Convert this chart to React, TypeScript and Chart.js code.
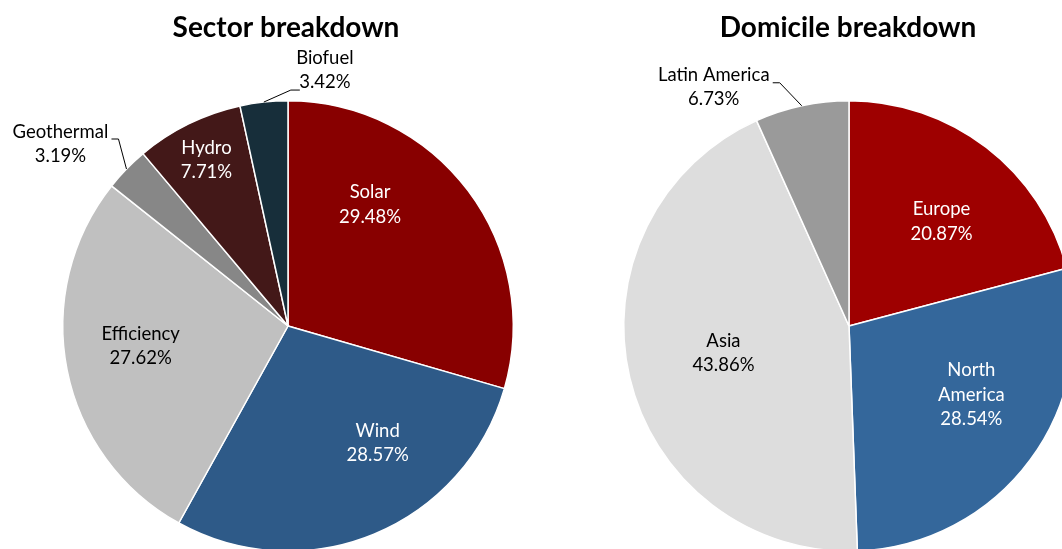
import React, { useEffect, useRef } from "react";
import { Chart, registerables } from "chart.js";

Chart.register(...registerables);

// ---------- data ----------
const sectorTitle = "Sector breakdown";
const sectorLabels = ["Solar", "Wind", "Efficiency", "Geothermal", "Hydro", "Biofuel"];
const sectorValues = [29.48, 28.57, 27.62, 3.19, 7.71, 3.42];

const domicileTitle = "Domicile breakdown";
const domicileLabels = ["Europe", "North America", "Asia", "Latin America"];
const domicileValues = [20.87, 28.54, 43.86, 6.73];

// ---------- styles ----------
const sectorColors = ["#880000", "#2E5A88", "#C0C0C0", "#878787", "#431818", "#172E3A"];
const domicileColors = ["#9E0000", "#34679B", "#DDDDDD", "#9A9A9A"];

const FONT = "Lato, 'Open Sans', sans-serif";

type LabelCfg =
  | { kind: "in"; dA: number; rf: number; color: string; lines?: string[] }
  | { kind: "out"; text: [number, number]; elbow: [number, number]; end: [number, number]; lines?: string[] };

const sectorLabelCfg: LabelCfg[] = [
  { kind: "in", dA: -19, rf: 0.65, color: "#fff" },
  { kind: "in", dA: -15, rf: 0.655, color: "#fff" },
  { kind: "in", dA: 3.6, rf: 0.66, color: "#000" },
  { kind: "out", text: [-66, -25], elbow: [-8, -30], end: [-15, -30] },
  { kind: "in", dA: 0, rf: 0.82, color: "#fff" },
  { kind: "out", text: [61, -32], elbow: [27, -12], end: [36, -12] },
];

const domicileLabelCfg: LabelCfg[] = [
  { kind: "in", dA: 3.9, rf: 0.62, color: "#fff" },
  { kind: "in", dA: -7.2, rf: 0.623, color: "#fff", lines: ["North", "America"] },
  { kind: "in", dA: 1.1, rf: 0.57, color: "#000" },
  { kind: "out", text: [-88, -18.5], elbow: [-22, -23], end: [-29, -23] },
];

function makePlugin(title: string, titleX: number, cfgs: LabelCfg[]) {
  return {
    id: "customLabels",
    afterDatasetsDraw(chart: any) {
      const ctx = chart.ctx as CanvasRenderingContext2D;
      const meta = chart.getDatasetMeta(0);
      const labels = chart.data.labels as string[];
      const values = chart.data.datasets[0].data as number[];
      ctx.save();
      // title
      ctx.font = `bold 28px ${FONT}`;
      ctx.fillStyle = "#000";
      ctx.textAlign = "center";
      ctx.textBaseline = "middle";
      ctx.fillText(title, titleX, 28);

      ctx.font = `18.5px ${FONT}`;
      const lh = 24.5;
      meta.data.forEach((arc: any, i: number) => {
        const p = arc.getProps(["x", "y", "startAngle", "endAngle", "outerRadius"], true);
        const mid = (p.startAngle + p.endAngle) / 2;
        const cfg = cfgs[i];
        const lines = [...(cfg.lines || [labels[i]]), values[i].toFixed(2) + "%"];
        let cx: number, cy: number, color: string;
        if (cfg.kind === "in") {
          const a = mid + (cfg.dA * Math.PI) / 180;
          const r = p.outerRadius * cfg.rf;
          cx = p.x + r * Math.cos(a);
          cy = p.y + r * Math.sin(a);
          color = cfg.color;
        } else {
          const ex = p.x + p.outerRadius * Math.cos(mid);
          const ey = p.y + p.outerRadius * Math.sin(mid);
          ctx.strokeStyle = "#000";
          ctx.lineWidth = 1;
          ctx.beginPath();
          ctx.moveTo(ex, ey);
          ctx.lineTo(ex + cfg.elbow[0], ey + cfg.elbow[1]);
          ctx.lineTo(ex + cfg.end[0], ey + cfg.end[1]);
          ctx.stroke();
          cx = ex + cfg.text[0];
          cy = ey + cfg.text[1];
          color = "#000";
        }
        ctx.fillStyle = color;
        const top = cy - ((lines.length - 1) * lh) / 2;
        lines.forEach((t, k) => ctx.fillText(t, cx, top + k * lh));
      });
      ctx.restore();
    },
  };
}

function PieCanvas(props: {
  left: number;
  width: number;
  padL: number;
  padR: number;
  labels: string[];
  values: number[];
  colors: string[];
  title: string;
  titleX: number;
  cfgs: LabelCfg[];
}) {
  const ref = useRef<HTMLCanvasElement>(null);
  useEffect(() => {
    if (!ref.current) return;
    const chart = new Chart(ref.current, {
      type: "pie",
      data: {
        labels: props.labels,
        datasets: [
          {
            data: props.values,
            backgroundColor: props.colors,
            borderColor: "#ffffff",
            borderWidth: 1.5,
          },
        ],
      },
      options: {
        animation: false,
        responsive: false,
        events: [],
        layout: { padding: { top: 100, bottom: 48, left: props.padL, right: props.padR } },
        plugins: { legend: { display: false }, tooltip: { enabled: false }, title: { display: false } },
      },
      plugins: [makePlugin(props.title, props.titleX, props.cfgs)],
    });
    return () => chart.destroy();
  }, []);
  return (
    <canvas
      ref={ref}
      width={props.width}
      height={600}
      style={{ position: "absolute", left: props.left, top: 0, width: props.width, height: 600 }}
    />
  );
}

export default function App() {
  return (
    <div
      style={{
        position: "fixed",
        left: 0,
        top: 0,
        width: 1062,
        height: 549,
        overflow: "hidden",
        background: "#fff",
      }}
    >
      <PieCanvas
        left={0}
        width={576}
        padL={62}
        padR={62}
        labels={sectorLabels}
        values={sectorValues}
        colors={sectorColors}
        title={sectorTitle}
        titleX={286}
        cfgs={sectorLabelCfg}
      />
      <PieCanvas
        left={576}
        width={546}
        padL={47}
        padR={47}
        labels={domicileLabels}
        values={domicileValues}
        colors={domicileColors}
        title={domicileTitle}
        titleX={272}
        cfgs={domicileLabelCfg}
      />
    </div>
  );
}
